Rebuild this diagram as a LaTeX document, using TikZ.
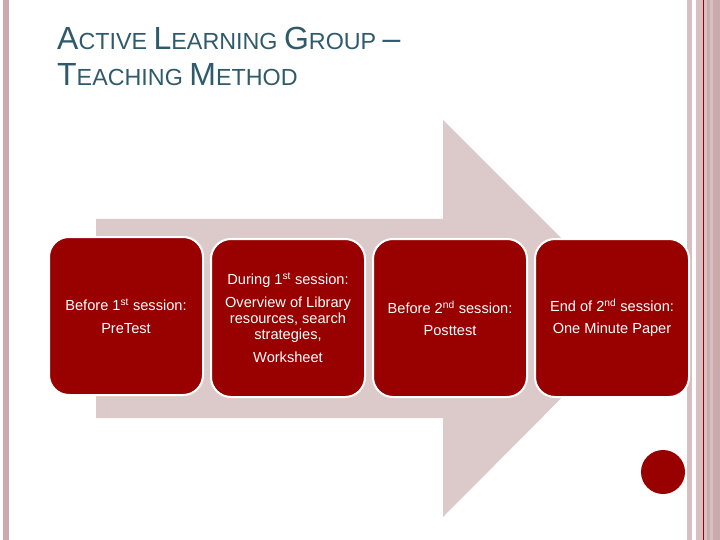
\documentclass[tikz,border=0pt]{standalone}
\usepackage{fontspec}
\setmainfont{Liberation Sans}
\usetikzlibrary{positioning}

\definecolor{boxred}{HTML}{990000}
\definecolor{arrowgray}{HTML}{DCCACB}
\definecolor{titleteal}{HTML}{2F5A6B}
\definecolor{stripe}{HTML}{CBAAAE}
\definecolor{stripelight}{HTML}{D8C0C2}

\newcommand{\capletter}[1]{{\fontsize{32}{36}\selectfont #1}}

\begin{document}
\begin{tikzpicture}[
    x=1pt, y=-1pt,
    stepbox/.style={rectangle, rounded corners=20pt, fill=boxred, draw=white, line width=2pt,
        minimum width=154pt, minimum height=158pt, align=center, text=white,
        font=\fontsize{14.6}{16}\selectfont},
    dot/.style={circle, fill=boxred, minimum size=44pt, inner sep=0pt},
    title/.style={anchor=base west, align=left, text=titleteal, font=\fontsize{23.3}{36}\selectfont, inner sep=0pt}
]
\useasboundingbox (0,0) rectangle (720,540);

% Side stripes
\fill[stripe] (3,0) rectangle (9,540);
\fill[stripelight] (687,0) rectangle (692,540);
\fill[stripelight] (696,0) rectangle (720,540);
\fill[stripe] (707,0) rectangle (710,540);
\fill[stripe] (713,0) rectangle (720,540);
\draw[boxred, line width=0.8pt] (703,0) -- (703,540);

% Title
\node[title] (heading) at (57,86) {\capletter{A}CTIVE \capletter{L}EARNING \capletter{G}ROUP \capletter{--}\\
    \capletter{T}EACHING \capletter{M}ETHOD};

% Big arrow behind the steps
\fill[arrowgray] (96,219) -- (443,219) -- (443,120) -- (641,318)
    -- (443,517) -- (443,418) -- (96,418) -- cycle;

% Steps
\node[stepbox] (s1) at (126,316) {Before 1\textsuperscript{st} session:\\[7pt] PreTest};
\node[stepbox] (s2) at (288,318) {During 1\textsuperscript{st} session:\\[7pt]
    Overview of Library\\ resources, search\\ strategies,\\[7pt] Worksheet};
\node[stepbox] (s3) at (450,318) {Before 2\textsuperscript{nd} session:\\[6pt] Posttest};
\node[stepbox] (s4) at (612,318) {End of 2\textsuperscript{nd} session:\\[6pt] One Minute Paper};

% Corner dot
\node[dot] (mark) at (663,472) {};

\end{tikzpicture}
\end{document}
